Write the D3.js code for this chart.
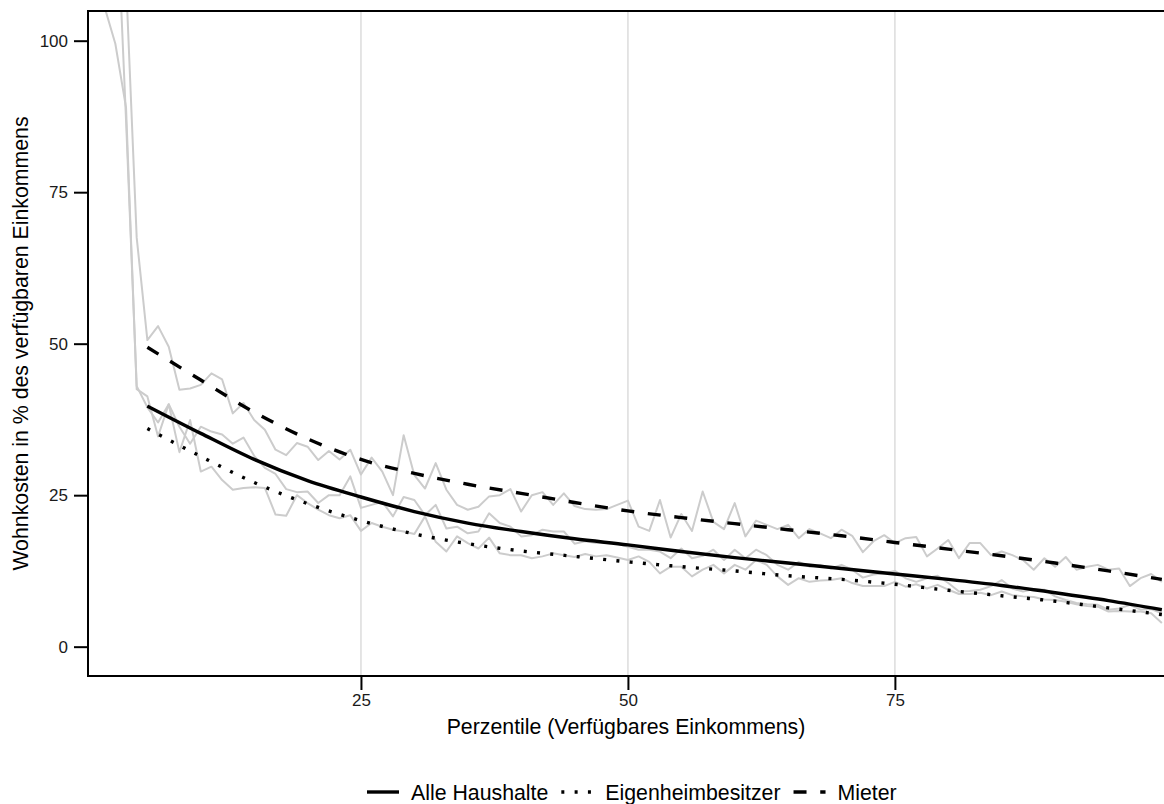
<!DOCTYPE html>
<html>
<head>
<meta charset="utf-8">
<script src="https://cdn.jsdelivr.net/npm/d3@7"></script>
<style>
  body { margin: 0; background: #fff; }
  svg { display: block; font-family: "Liberation Sans", Arial, Helvetica, sans-serif; }
</style>
</head>
<body>
<svg id="chart"></svg>
<script>
const W = 1164, H = 804;

// percentiles 1..100
const percentiles = d3.range(1, 101);

// raw shares (grey lines)
const alleRaw = [160, 128, 87, 43, 39.5, 37.0, 40.0, 36.3, 33.5, 36.3,
  35.5, 35.0, 33.5, 34.5, 31.5, 29.5, 28.5, 26.0, 25.5, 25.6,
  23.7, 25.0, 25.0, 28.1, 22.9, 23.4, 23.9, 21.5, 24.7, 24.2,
  21.7, 23.4, 19.5, 19.8, 18.7, 19.0, 22.0, 20.4, 19.8, 18.2,
  18.4, 19.3, 19.0, 19.0, 17.0, 17.4, 17.1, 17.1, 17.0, 16.5,
  16.0, 16.0, 15.7, 14.6, 16.2, 14.6, 15.0, 16.0, 14.3, 16.0,
  14.6, 16.0, 15.1, 13.5, 12.7, 14.0, 13.2, 13.5, 12.9, 13.5,
  12.7, 11.4, 11.9, 12.1, 12.5, 11.3, 10.7, 11.3, 11.7, 10.5,
  9.1, 9.2, 9.4, 10.0, 11.0, 9.6, 9.1, 9.5, 9.4, 8.3,
  7.7, 7.2, 7.0, 6.9, 6.1, 6.3, 6.9, 6.1, 6.2, 5.5];

const eigenRaw = [105.5, 99.5, 89, 42.5, 41.3, 34.7, 40.0, 32.1, 37.4, 28.9,
  29.7, 27.5, 25.9, 26.2, 26.3, 26.2, 21.8, 21.6, 25.0, 23.7,
  22.6, 21.7, 21.2, 21.7, 19.1, 20.4, 19.8, 19.3, 19.0, 18.6,
  21.5, 17.3, 15.7, 18.2, 17.1, 16.2, 18.0, 15.4, 15.1, 15.1,
  14.6, 14.9, 15.4, 15.1, 14.8, 15.3, 14.9, 15.1, 14.7, 14.3,
  14.9, 14.0, 12.1, 13.2, 13.2, 11.6, 12.7, 13.5, 12.1, 13.5,
  12.7, 14.3, 13.5, 11.6, 10.2, 11.3, 10.7, 10.9, 11.0, 11.3,
  10.5, 10.0, 10.0, 10.0, 10.7, 9.9, 10.3, 9.6, 10.2, 9.4,
  8.7, 8.7, 8.9, 8.5, 9.1, 8.5, 8.3, 8.2, 7.8, 7.7,
  7.4, 7.0, 6.7, 6.6, 5.8, 5.9, 5.8, 5.8, 5.5, 3.9];

const mieterRaw = [250, 180, 110, 67.5, 50.6, 52.9, 49.5, 42.4, 42.6, 43.2,
  45.1, 44.1, 38.5, 40.2, 37.4, 35.8, 32.5, 31.6, 33.6, 33.0,
  30.8, 32.3, 30.9, 32.5, 28.4, 31.2, 28.9, 25.0, 34.9, 28.3,
  26.1, 30.3, 25.9, 23.4, 22.6, 23.1, 24.8, 25.0, 26.0, 22.3,
  25.0, 25.5, 23.4, 25.3, 23.2, 22.7, 22.6, 22.7, 23.4, 24.1,
  19.8, 19.1, 24.2, 18.0, 21.9, 19.1, 25.6, 20.6, 19.4, 23.7,
  18.2, 20.8, 20.1, 19.4, 20.1, 17.9, 19.4, 18.7, 17.9, 19.3,
  18.3, 15.6, 17.4, 18.4, 17.1, 17.9, 18.1, 14.9, 16.2, 17.6,
  14.6, 17.1, 17.1, 15.1, 15.7, 15.1, 14.3, 12.7, 14.6, 13.2,
  14.8, 12.7, 13.2, 13.5, 12.7, 12.9, 10.0, 11.3, 12.0, 10.7];

// fitted curves (black lines), read every 5 percentiles
const fitPercentiles = [5, 10, 15, 20, 25, 30, 35, 40, 45, 50, 55, 60, 65, 70, 75, 80, 85, 90, 95, 100];
const alleFit = [39.7, 35.2, 30.9, 27.4, 24.7, 22.3, 20.4, 19.0, 17.8, 16.8, 15.7, 14.7, 13.8, 12.9, 12.0, 11.1, 10.1, 8.9, 7.6, 6.1];
const eigenFit = [36.0, 31.4, 27.1, 23.6, 20.8, 18.6, 17.0, 15.8, 14.9, 14.0, 13.2, 12.5, 11.7, 11.1, 10.3, 9.3, 8.4, 7.5, 6.4, 5.3];
const mieterFit = [49.4, 44.0, 38.7, 34.3, 30.9, 28.6, 26.8, 25.3, 23.8, 22.4, 21.3, 20.3, 19.3, 18.3, 17.2, 16.1, 15.0, 13.8, 12.5, 11.1];

const xTicks = [25, 50, 75];
const yTicks = [0, 25, 50, 75, 100];
const groups = ["Alle Haushalte", "Eigenheimbesitzer", "Mieter"];
const dashes = [null, "3,10.3", "13,13.7"];

const pLeft = 88, pTop = 11, pRight = 1164, pBottom = 676;

const x = d3.scaleLinear().domain([-0.56, 100.2]).range([pLeft, pRight]);
const y = d3.scaleLinear().domain([-4.84, 104.9]).range([pBottom, pTop]);

const svg = d3.select("#chart").attr("width", W).attr("height", H);

svg.append("defs").append("clipPath").attr("id", "panel")
  .append("rect")
  .attr("x", pLeft).attr("y", pTop)
  .attr("width", pRight - pLeft).attr("height", pBottom - pTop);

// vertical grid
svg.append("g")
  .selectAll("line")
  .data(xTicks)
  .join("line")
  .attr("x1", d => x(d)).attr("x2", d => x(d))
  .attr("y1", pTop).attr("y2", pBottom)
  .attr("stroke", "#dcdcdc")
  .attr("stroke-width", 1.5);

const plot = svg.append("g").attr("clip-path", "url(#panel)");

const rawLine = d3.line()
  .x((d, i) => x(percentiles[i]))
  .y(d => y(d));

plot.selectAll("path.raw")
  .data([alleRaw, eigenRaw, mieterRaw])
  .join("path")
  .attr("class", "raw")
  .attr("d", rawLine)
  .attr("fill", "none")
  .attr("stroke", "#cccccc")
  .attr("stroke-width", 2)
  .attr("stroke-linejoin", "round");

const fitLine = d3.line()
  .x((d, i) => x(fitPercentiles[i]))
  .y(d => y(d))
  .curve(d3.curveMonotoneX);

plot.selectAll("path.fit")
  .data([alleFit, eigenFit, mieterFit])
  .join("path")
  .attr("class", "fit")
  .attr("d", fitLine)
  .attr("fill", "none")
  .attr("stroke", "#000")
  .attr("stroke-width", 3.4)
  .attr("stroke-dasharray", (d, i) => dashes[i]);

// panel frame (right side runs off the canvas)
svg.append("rect")
  .attr("x", pLeft).attr("y", pTop)
  .attr("width", pRight - pLeft + 10).attr("height", pBottom - pTop)
  .attr("fill", "none")
  .attr("stroke", "#000")
  .attr("stroke-width", 2);

// axes
const xAxis = svg.append("g")
  .attr("transform", `translate(0,${pBottom})`)
  .call(d3.axisBottom(x).tickValues(xTicks).tickSize(14).tickPadding(4));
const yAxis = svg.append("g")
  .attr("transform", `translate(${pLeft},0)`)
  .call(d3.axisLeft(y).tickValues(yTicks).tickSize(14).tickPadding(6));

[xAxis, yAxis].forEach(a => {
  a.select(".domain").remove();
  a.selectAll(".tick line").attr("stroke", "#000").attr("stroke-width", 2);
  a.selectAll(".tick text")
    .attr("fill", "#1a1a1a")
    .style("font-size", "17px")
    .style("font-family", "'Liberation Sans', Arial, sans-serif");
});

svg.append("text")
  .attr("x", (pLeft + pRight) / 2)
  .attr("y", 734)
  .attr("text-anchor", "middle")
  .style("font-size", "21.3px")
  .text("Perzentile (Verfügbares Einkommens)");

svg.append("text")
  .attr("transform", `translate(28,${(pTop + pBottom) / 2}) rotate(-90)`)
  .attr("text-anchor", "middle")
  .style("font-size", "21.3px")
  .text("Wohnkosten in % des verfügbaren Einkommens");

// legend
const legend = svg.append("g");
let lx = 367;
const ly = 792;
groups.forEach((name, i) => {
  const item = legend.append("g");
  item.append("line")
    .attr("x1", lx).attr("x2", lx + 32)
    .attr("y1", ly).attr("y2", ly)
    .attr("stroke", "#000")
    .attr("stroke-width", 3.4)
    .attr("stroke-dasharray", dashes[i]);
  const t = item.append("text")
    .attr("x", lx + 44)
    .attr("y", ly + 7.5)
    .style("font-size", "21.3px")
    .text(name);
  lx = lx + 44 + t.node().getComputedTextLength() + 13;
});
</script>
</body>
</html>
